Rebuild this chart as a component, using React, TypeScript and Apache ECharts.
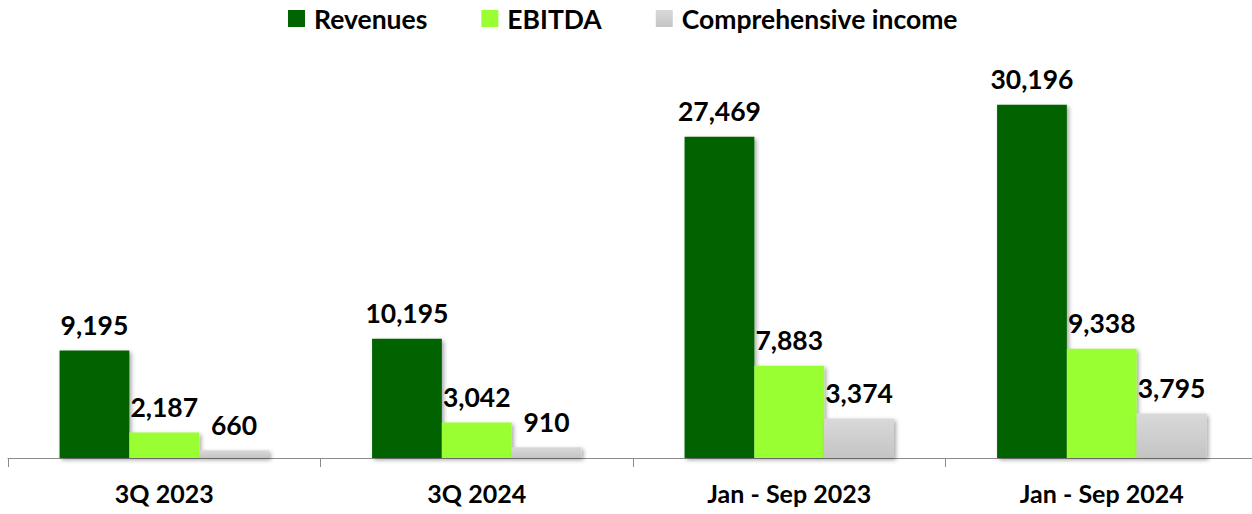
import React, { useEffect, useRef } from "react";
import * as echarts from "echarts";

const categories = ["3Q 2023", "3Q 2024", "Jan - Sep 2023", "Jan - Sep 2024"];
const revenues = [9195, 10195, 27469, 30196];
const ebitda = [2187, 3042, 7883, 9338];
const comprehensiveIncome = [660, 910, 3374, 3795];

const FONT = "Lato, 'Open Sans', sans-serif";

export default function App() {
  const ref = useRef<HTMLDivElement>(null);
  useEffect(() => {
    if (!ref.current) return;
    const chart = echarts.init(ref.current, undefined, { renderer: "svg" });
    const label = {
      show: true,
      position: "top" as const,
      distance: 12,
      color: "#000",
      fontFamily: FONT,
      fontWeight: "bold" as const,
      fontSize: 26.5,
      formatter: (p: any) => Number(p.value).toLocaleString("en-US"),
    };
    const shadow = {
      shadowColor: "rgba(0,0,0,0.35)",
      shadowBlur: 4,
      shadowOffsetX: 2,
      shadowOffsetY: 2,
    };
    chart.setOption({
      animation: false,
      backgroundColor: "#fff",
      legend: {
        top: 0,
        left: 283,
        itemWidth: 17,
        itemHeight: 17,
        itemGap: 54,
        textStyle: {
          fontFamily: FONT,
          fontWeight: "bold",
          fontSize: 26.5,
          color: "#000",
          padding: [0, 0, 0, 4],
        },
        data: [
          { name: "Revenues", icon: "rect" },
          { name: "EBITDA", icon: "rect" },
          { name: "Comprehensive income", icon: "rect" },
        ],
      },
      grid: { left: 8, right: 0, top: 37, bottom: 56, containLabel: false },
      xAxis: {
        type: "category",
        data: categories,
        axisLine: { lineStyle: { color: "#8c8c8c", width: 1 } },
        axisTick: { show: true, length: 9, lineStyle: { color: "#8c8c8c" } },
        axisLabel: {
          margin: 22,
          color: "#000",
          fontFamily: FONT,
          fontWeight: "bold",
          fontSize: 25,
        },
      },
      yAxis: {
        type: "value",
        min: 0,
        max: 36000,
        show: false,
        splitLine: { show: false },
      },
      series: [
        {
          name: "Revenues",
          type: "bar",
          data: revenues,
          barGap: "0%",
          barCategoryGap: "33%",
          itemStyle: { color: "#006400", ...shadow },
          label,
        },
        {
          name: "EBITDA",
          type: "bar",
          data: ebitda,
          barGap: "0%",
          barCategoryGap: "33%",
          itemStyle: { color: "#99ff33", ...shadow },
          label,
        },
        {
          name: "Comprehensive income",
          type: "bar",
          data: comprehensiveIncome,
          barGap: "0%",
          barCategoryGap: "33%",
          itemStyle: {
            color: new echarts.graphic.LinearGradient(0, 0, 0, 1, [
              { offset: 0, color: "#d9d9d9" },
              { offset: 1, color: "#c4c4c4" },
            ]),
            ...shadow,
          },
          label,
        },
      ],
    });
    return () => chart.dispose();
  }, []);
  return (
    <div style={{ position: "fixed", left: 0, top: 0, width: 1252, height: 514, overflow: "hidden" }}>
      <div ref={ref} style={{ width: 1258, height: 514 }} />
    </div>
  );
}
